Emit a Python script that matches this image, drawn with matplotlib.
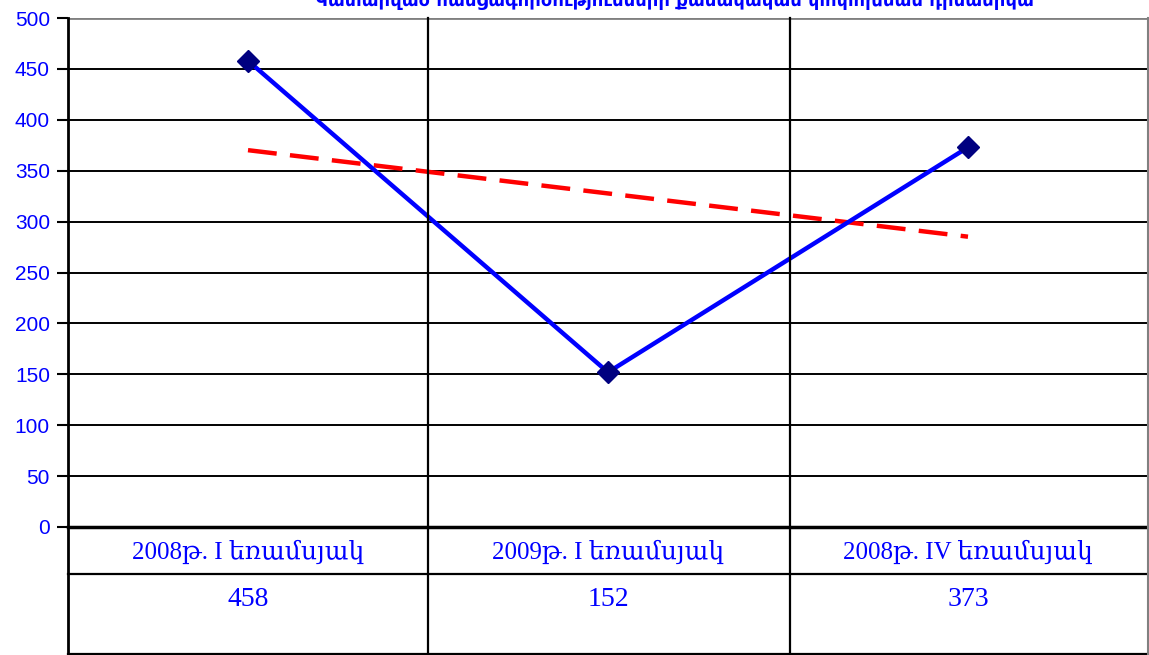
import matplotlib
matplotlib.use("Agg")
import matplotlib.pyplot as plt
import numpy as np

categories = ["2008թ. I եռամսյակ", "2009թ. I եռամսյակ", "2008թ. IV եռամսյակ"]
values = [458, 152, 373]
yticks = [0, 50, 100, 150, 200, 250, 300, 350, 400, 450, 500]
title = "Կատարված հանցագործությունների քանակական փոփոխման դինամիկա"

W, H = 1149, 655
fig = plt.figure(figsize=(W / 100, H / 100), dpi=100)

x0, x1 = 68, 1148
ytop, ybot = 18, 527
ax = fig.add_axes([x0 / W, 1 - ybot / H, (x1 - x0) / W, (ybot - ytop) / H])
ax.set_xlim(-0.5, len(categories) - 0.5)
ax.set_ylim(0, 500)

blue = "#0000FF"
for y in yticks[1:-1]:
    ax.axhline(y, color="black", lw=1.4, zorder=1)
ax.axhline(500, color="#808080", lw=2, zorder=1)

for s in ["top", "right", "bottom"]:
    ax.spines[s].set_visible(False)
ax.spines["left"].set_linewidth(2)
ax.spines["left"].set_color("black")

ax.set_yticks(yticks)
ax.set_yticklabels([str(v) for v in yticks], color=blue, fontsize=15,
                   family=["Liberation Sans", "DejaVu Sans"])
ax.tick_params(axis="y", length=8, width=1.5, pad=5)
ax.set_xticks([])

xs = np.arange(len(values))
coef = np.polyfit(xs, values, 1)
trend = np.polyval(coef, xs)
ax.plot(xs, trend, color="#FF0000", lw=3.2, dashes=(6.5, 3), zorder=3)
ax.plot(xs, values, color=blue, lw=3.2, zorder=4, marker="D", markersize=11,
        markerfacecolor="#000080", markeredgecolor="#000080", clip_on=False)

# table below
tab = fig.add_axes([x0 / W, 0, (x1 - x0) / W, (H - ybot) / H])
tab.set_xlim(-0.5, len(categories) - 0.5)
tab.set_ylim(H - ybot, 0)
tab.axis("off")
r1 = 574 - ybot
r2 = 654 - ybot
tab.plot([-0.5, 2.5], [0, 0], color="black", lw=2.5, clip_on=False)
tab.plot([-0.5, 2.5], [r1, r1], color="black", lw=1.6, clip_on=False)
tab.plot([-0.5, 2.5], [r2, r2], color="black", lw=1.6, clip_on=False)
for i, (c, v) in enumerate(zip(categories, values)):
    tab.text(i, r1 / 2 + 1, c, ha="center", va="center", color=blue, fontsize=18,
             family=["Liberation Serif", "DejaVu Serif"])
    tab.text(i, r1 + 26, str(v), ha="center", va="center", color=blue, fontsize=20,
             family=["Liberation Serif", "DejaVu Serif"])
# vertical separators across chart + table
sep = fig.add_axes([0, 0, 1, 1], facecolor="none")
sep.set_xlim(0, W)
sep.set_ylim(H, 0)
sep.axis("off")
for xv in [428, 790]:
    sep.plot([xv, xv], [ytop, 654], color="black", lw=1.6)
sep.plot([x0, x0], [ybot, 654], color="black", lw=2)
sep.plot([1148, 1148], [ytop, 654], color="#808080", lw=1.5)

fig.text(0.587, 0.998, title, ha="center", va="center", color=blue, fontsize=13,
         fontweight="bold", family=["DejaVu Sans"])

fig.savefig("out.png", dpi=100)
